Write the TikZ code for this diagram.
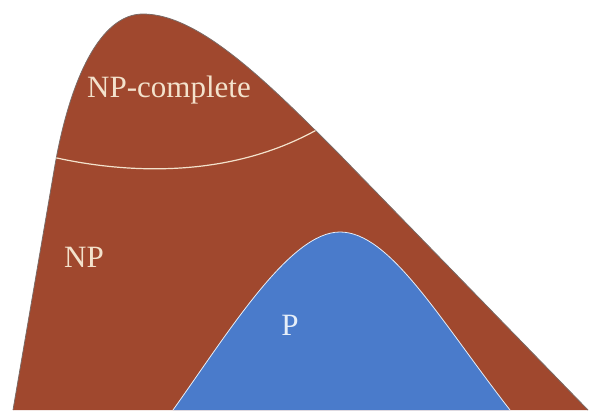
\documentclass[tikz,border=0pt]{standalone}
\usepackage{fontspec}
\setmainfont{Liberation Serif}
\usepackage{xcolor}
\usetikzlibrary{positioning}
\definecolor{npbrown}{HTML}{A0482E}
\definecolor{pblue}{HTML}{4A7BCB}
\definecolor{edgegray}{HTML}{7A6A66}
\definecolor{cream}{HTML}{F3E2CC}
\definecolor{paleblue}{HTML}{E6EEF8}
\tikzset{
  classlabel/.style={font=\fontsize{31}{36}\selectfont, text=cream, inner sep=0pt, anchor=base},
  plabel/.style={classlabel, text=paleblue},
  border/.style={line width=0.8pt, line join=round}
}

\begin{document}
\begin{tikzpicture}[x=1pt, y=-1pt]
\useasboundingbox (0,0) rectangle (592,410);
% NP region
\fill[npbrown] (13,410) -- (55,165)
  .. controls (70,80) and (100,14) .. (143,14)
  .. controls (200,14) and (270,85) .. (340,155) -- (588,410) -- cycle;
\draw[edgegray, border] (13,410) -- (55,165)
  .. controls (70,80) and (100,14) .. (143,14)
  .. controls (200,14) and (270,85) .. (340,155) -- (588,410);
% NP-complete boundary
\begin{scope}
\clip (13,410) -- (55,165)
  .. controls (70,80) and (100,14) .. (143,14)
  .. controls (200,14) and (270,85) .. (340,155) -- (588,410) -- cycle;
\draw[cream, line width=1.2pt] (40,154) .. controls (110,172) and (230,185) .. (330,122);
\end{scope}
% P region
\fill[pblue] (173,410)
  .. controls (230,330) and (290,232) .. (340,232)
  .. controls (390,232) and (440,320) .. (510,410) -- cycle;
\draw[paleblue, border] (173,410)
  .. controls (230,330) and (290,232) .. (340,232)
  .. controls (390,232) and (440,320) .. (510,410);
\node[classlabel] (npc) at (169,97) {NP-complete};
\node[classlabel] (np) at (84,267) {NP};
\node[plabel] (p) at (290,335) {P};
\end{tikzpicture}
\end{document}
